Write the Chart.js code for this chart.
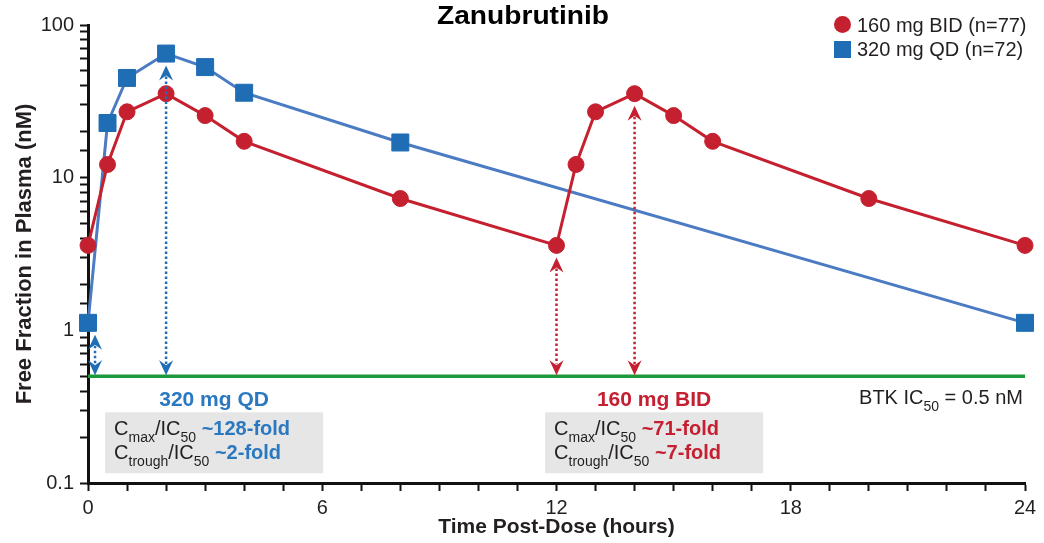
<!DOCTYPE html>
<html>
<head>
<meta charset="utf-8">
<script src="https://cdn.jsdelivr.net/npm/chart.js@4.4.1/dist/chart.umd.min.js"></script>
<style>
  html, body { margin: 0; background: #fff; }
  #wrap { width: 1044px; height: 543px; }
</style>
</head>
<body>
<div id="wrap"><canvas id="pk-chart"></canvas></div>
<script>
;(function(){
  // values
  const hoursBID = [0, 0.5, 1, 2, 3, 4, 8, 12, 12.5, 13, 14, 15, 16, 20, 24]
  const concBID = [3.6, 12.2, 27, 35.5, 25.5, 17.3, 7.3, 3.6, 12.2, 27, 35.5, 25.5, 17.3, 7.3, 3.6]
  const hoursQD = [0, 0.5, 1, 2, 3, 4, 8, 24]
  const concQD = [1.12, 22.8, 45, 65, 53, 36, 17, 1.12]
  const seriesLabels = ['160 mg BID (n=77)', '320 mg QD (n=72)']
  const ic50 = 0.5
  const ic50Span = [0, 24]
  // dotted double arrows: hour, value at top end, which regimen
  const arrowHours = [0.18, 2, 12, 14]
  const arrowPeaks = [1.12, 65, 3.6, 35.5]
  const arrowDose = ['QD', 'QD', 'BID', 'BID']
  const xTickStep = 6

  const FONT = '"Liberation Sans", Arial, Helvetica, sans-serif'
  const ink = '#231f20'
  const redMark = '#c5202f'
  const blueMark = '#1f6db5'
  const blueLine = '#4b7bc3'
  const green = '#1d9a3c'
  const blueText = '#2a78c0'
  const redText = '#c42032'

  const toPoints = (xs, ys) => xs.map((h, i) => ({ x: h, y: ys[i] }))

  function arrowHead(ctx, x, y, dir, color) {
    // (x, y) is the tip; dir -1 points up, 1 points down
    ctx.beginPath()
    ctx.moveTo(x, y)
    ctx.lineTo(x - 7, y - dir * 15)
    ctx.lineTo(x, y - dir * 10)
    ctx.lineTo(x + 7, y - dir * 15)
    ctx.closePath()
    ctx.fillStyle = color
    ctx.fill()
  }

  // draw a line of text made of runs (subscripts, bold, colour)
  function runsWidth(ctx, parts, size) {
    let w = 0
    for (const p of parts) {
      const fs = p.sub ? Math.round(size * 0.68) : size
      ctx.font = (p.bold ? 'bold ' : '') + fs + 'px ' + FONT
      w += ctx.measureText(p.t).width
    }
    return w
  }
  function drawRuns(ctx, x, y, parts, size) {
    for (const p of parts) {
      const fs = p.sub ? Math.round(size * 0.68) : size
      ctx.font = (p.bold ? 'bold ' : '') + fs + 'px ' + FONT
      ctx.fillStyle = p.color || ink
      ctx.fillText(p.t, x, p.sub ? y + size * 0.35 : y)
      x += ctx.measureText(p.t).width
    }
  }

  const overlay = {
    id: 'overlay',
    afterDatasetsDraw(chart) {
      const { ctx, scales: { x, y } } = chart
      ctx.save()
      arrowHours.forEach((h, i) => {
        const px = x.getPixelForValue(h)
        const top = y.getPixelForValue(arrowPeaks[i]) + 12
        const bot = y.getPixelForValue(ic50) - 1
        const col = arrowDose[i] === 'QD' ? blueMark : redMark
        ctx.strokeStyle = col
        ctx.lineWidth = 2.5
        ctx.setLineDash([2.5, 2.5])
        ctx.beginPath()
        ctx.moveTo(px, top + 11)
        ctx.lineTo(px, bot - 11)
        ctx.stroke()
        ctx.setLineDash([])
        arrowHead(ctx, px, top, -1, col)
        arrowHead(ctx, px, bot, 1, col)
      })
      ctx.restore()
    },
    afterDraw(chart) {
      const { ctx, scales: { x, y } } = chart
      ctx.save()
      ctx.textBaseline = 'alphabetic'

      // title, stretched a little like the original artwork
      ctx.font = 'bold 25px ' + FONT
      ctx.fillStyle = '#000'
      const tw = ctx.measureText('Zanubrutinib').width
      ctx.save()
      ctx.translate(523, 24)
      ctx.scale(172 / tw, 1)
      ctx.textAlign = 'center'
      ctx.fillText('Zanubrutinib', 0, 0)
      ctx.restore()

      // legend
      ctx.fillStyle = redMark
      ctx.beginPath()
      ctx.arc(842.5, 24.5, 8.5, 0, Math.PI * 2)
      ctx.fill()
      ctx.fillStyle = blueMark
      ctx.fillRect(834, 41, 17, 17)
      ctx.font = '20px ' + FONT
      ctx.fillStyle = ink
      ctx.textAlign = 'left'
      ctx.fillText(seriesLabels[0], 857, 32)
      ctx.fillText(seriesLabels[1], 857, 56)

      // regimen labels and ratio boxes
      const lineY = y.getPixelForValue(ic50)
      const blocks = [
        { cx: x.getPixelForValue(3.23), name: '320 mg QD', col: blueText,
          rows: [['max', '~128-fold'], ['trough', '~2-fold']] },
        { cx: x.getPixelForValue(14.5), name: '160 mg BID', col: redText,
          rows: [['max', '~71-fold'], ['trough', '~7-fold']] }
      ]
      blocks.forEach(b => {
        ctx.textAlign = 'center'
        ctx.font = 'bold 21px ' + FONT
        ctx.fillStyle = b.col
        ctx.fillText(b.name, b.cx, lineY + 30)
        ctx.fillStyle = '#e6e6e6'
        ctx.fillRect(b.cx - 109, lineY + 36, 218, 61)
        ctx.textAlign = 'left'
        b.rows.forEach((r, k) => {
          drawRuns(ctx, b.cx - 100, lineY + 59 + k * 24, [
            { t: 'C' }, { t: r[0], sub: true }, { t: '/IC' }, { t: '50', sub: true },
            { t: ' ' + r[1], bold: true, color: b.col }
          ], 20)
        })
      })

      // IC50 note
      const note = [{ t: 'BTK IC' }, { t: '50', sub: true }, { t: ' = 0.5 nM' }]
      const nw = runsWidth(ctx, note, 20)
      ctx.textAlign = 'left'
      drawRuns(ctx, x.getPixelForValue(24) - 2 - nw, lineY + 28, note, 20)
      ctx.restore()
    }
  }

  const config = {
    type: 'line',
    data: {
      datasets: [
        {
          label: seriesLabels[0],
          data: toPoints(hoursBID, concBID),
          borderColor: redMark,
          backgroundColor: redMark,
          borderWidth: 3,
          pointStyle: 'circle',
          pointRadius: 8,
          pointBorderWidth: 1,
          pointHoverRadius: 8,
          tension: 0,
          clip: false
        },
        {
          label: seriesLabels[1],
          data: toPoints(hoursQD, concQD),
          borderColor: blueLine,
          backgroundColor: blueMark,
          pointBorderColor: blueMark,
          borderWidth: 3,
          pointStyle: 'rect',
          pointRadius: 12,
          pointBorderWidth: 1,
          pointHoverRadius: 12,
          tension: 0,
          clip: false
        },
        {
          label: 'IC50',
          data: toPoints(ic50Span, [ic50, ic50]),
          borderColor: green,
          borderWidth: 3.5,
          pointRadius: 0,
          pointHoverRadius: 0
        }
      ]
    },
    options: {
      responsive: true,
      maintainAspectRatio: false,
      animation: false,
      events: [],
      layout: { padding: { left: 0, right: 19, top: 25, bottom: 0 } },
      plugins: {
        legend: { display: false },
        title: { display: false },
        tooltip: { enabled: false }
      },
      scales: {
        x: {
          type: 'linear',
          min: 0,
          max: 24,
          afterFit: s => { s.height = 60 },
          border: { color: '#111', width: 3 },
          grid: { drawOnChartArea: false, drawTicks: true, tickLength: 8, tickColor: '#111', tickWidth: 2 },
          ticks: {
            stepSize: 1,
            autoSkip: false,
            maxRotation: 0,
            padding: 5,
            color: ink,
            font: { family: FONT, size: 20 },
            callback: v => (v % xTickStep === 0 ? String(v) : '')
          },
          title: {
            display: true,
            text: 'Time Post-Dose (hours)',
            color: ink,
            font: { family: FONT, size: 21, weight: 'bold' },
            padding: { top: 0, bottom: 3 }
          }
        },
        y: {
          type: 'logarithmic',
          min: 0.1,
          max: 100,
          afterFit: s => { s.width = 88 },
          border: { color: '#111', width: 3 },
          grid: { drawOnChartArea: false, drawTicks: true, tickLength: 8, tickColor: '#111', tickWidth: 2 },
          ticks: {
            autoSkip: false,
            padding: 6,
            color: ink,
            font: { family: FONT, size: 20 },
            callback: v => {
              const e = Math.log10(v)
              return Math.abs(e - Math.round(e)) < 1e-6 ? String(+v.toPrecision(3)) : ''
            }
          },
          title: {
            display: true,
            text: 'Free Fraction in Plasma (nM)',
            color: ink,
            font: { family: FONT, size: 22, weight: 'bold' },
            padding: { top: 12, bottom: 0 }
          }
        }
      }
    },
    plugins: [overlay]
  }

  const ctx = document.getElementById('pk-chart')
  let chart = new Chart(ctx, config)
})()
</script>
</body>
</html>
